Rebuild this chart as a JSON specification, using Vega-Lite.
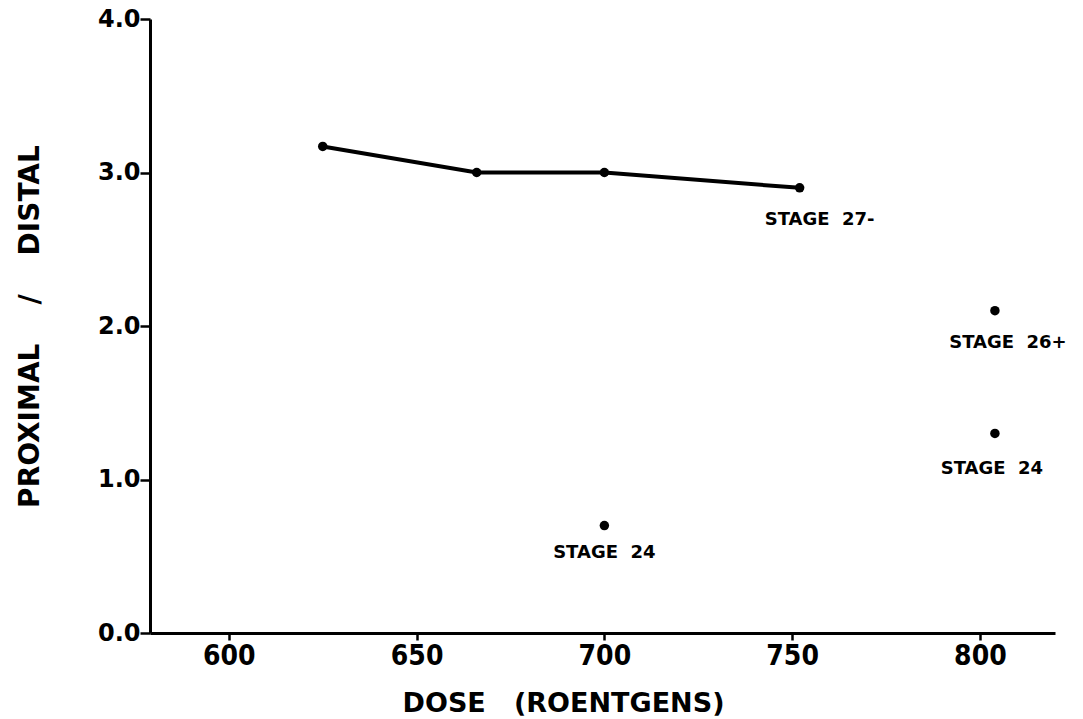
{
  "$schema": "https://vega.github.io/schema/vega-lite/v6.json",
  "width": 905,
  "height": 614,
  "autosize": {"type": "none"},
  "padding": {"left": 150, "top": 19, "right": 28, "bottom": 86},
  "background": "white",
  "config": {
    "view": {"stroke": null},
    "axis": {"grid": false, "domainColor": "black", "tickColor": "black", "labelColor": "black", "titleColor": "black"}
  },
  "data": {
    "values": [
      {"dose": 625, "ratio": 3.17, "series": "A", "label": ""},
      {"dose": 666, "ratio": 3.0, "series": "A", "label": ""},
      {"dose": 700, "ratio": 3.0, "series": "A", "label": ""},
      {"dose": 752, "ratio": 2.9, "series": "A", "label": "STAGE\u00a0\u00a027-"},
      {"dose": 804, "ratio": 2.1, "series": "B", "label": "STAGE\u00a0\u00a026+"},
      {"dose": 804, "ratio": 1.3, "series": "C", "label": "STAGE\u00a0\u00a024"},
      {"dose": 700, "ratio": 0.7, "series": "D", "label": "STAGE\u00a0\u00a024"}
    ]
  },
  "encoding": {
    "x": {
      "field": "dose", "type": "quantitative",
      "scale": {"domain": [579, 820], "nice": false, "zero": false},
      "axis": {
        "title": "DOSE\u00a0\u00a0\u00a0(ROENTGENS)",
        "values": [600, 650, 700, 750, 800],
        "format": "d",
        "domainWidth": 3, "tickWidth": 2.5, "tickSize": 7,
        "labelFont": "DejaVu Sans Condensed", "labelFontWeight": "bold", "labelFontSize": 28,
        "labelPadding": 2,
        "titleFont": "DejaVu Sans", "titleFontWeight": "bold", "titleFontSize": 27,
        "titleX": 413, "titleY": 78, "titleBaseline": "alphabetic", "titleAnchor": "middle"
      }
    },
    "y": {
      "field": "ratio", "type": "quantitative",
      "scale": {"domain": [0, 4], "nice": false, "zero": true},
      "axis": {
        "title": "PROXIMAL\u00a0\u00a0\u00a0\u00a0/\u00a0\u00a0\u00a0\u00a0DISTAL",
        "values": [0, 1, 2, 3, 4],
        "format": ".1f",
        "domainWidth": 3, "tickWidth": 2.5, "tickSize": 10,
        "labelFont": "DejaVu Sans", "labelFontWeight": "bold", "labelFontSize": 24,
        "labelPadding": 0,
        "titleFont": "DejaVu Sans", "titleFontWeight": "bold", "titleFontSize": 28,
        "titleX": -120, "titleBaseline": "middle"
      }
    }
  },
  "layer": [
    {
      "transform": [{"filter": "datum.series === 'A'"}],
      "mark": {"type": "line", "color": "black", "strokeWidth": 4}
    },
    {
      "mark": {"type": "circle", "color": "black", "opacity": 1, "size": 90}
    },
    {
      "transform": [{"filter": "datum.series === 'A' && datum.label !== ''"}],
      "mark": {"type": "text", "dx": 20, "dy": 32, "align": "center", "baseline": "middle", "font": "DejaVu Sans", "fontWeight": "bold", "fontSize": 18, "color": "black"},
      "encoding": {"text": {"field": "label"}}
    },
    {
      "transform": [{"filter": "datum.series === 'B'"}],
      "mark": {"type": "text", "dx": 13, "dy": 32, "align": "center", "baseline": "middle", "font": "DejaVu Sans", "fontWeight": "bold", "fontSize": 18, "color": "black"},
      "encoding": {"text": {"field": "label"}}
    },
    {
      "transform": [{"filter": "datum.series === 'C'"}],
      "mark": {"type": "text", "dx": -3, "dy": 36, "align": "center", "baseline": "middle", "font": "DejaVu Sans", "fontWeight": "bold", "fontSize": 18, "color": "black"},
      "encoding": {"text": {"field": "label"}}
    },
    {
      "transform": [{"filter": "datum.series === 'D'"}],
      "mark": {"type": "text", "dx": 0, "dy": 27, "align": "center", "baseline": "middle", "font": "DejaVu Sans", "fontWeight": "bold", "fontSize": 18, "color": "black"},
      "encoding": {"text": {"field": "label"}}
    }
  ]
}
